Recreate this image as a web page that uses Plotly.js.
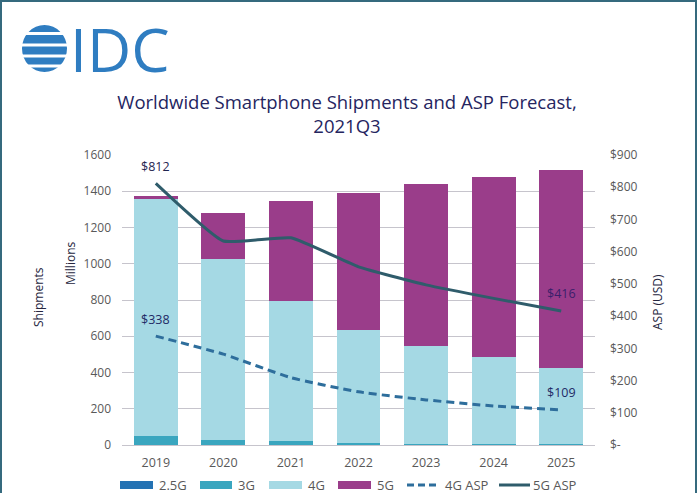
<!DOCTYPE html>
<html>
<head>
<meta charset="utf-8">
<script src="https://cdn.plot.ly/plotly-3.0.1.min.js"></script>
<style>
  html, body { margin: 0; padding: 0; background: #ffffff; }
  #wrap { position: relative; width: 697px; height: 493px; overflow: hidden; }
  #chart { width: 697px; height: 493px; }
  #frame { position: absolute; left: 0; top: 0; width: 697px; height: 520px; box-sizing: border-box;
           border: 2px solid #356a7e; pointer-events: none; }
</style>
</head>
<body>
<div id="wrap"><div id="chart"></div><div id="frame"></div></div>
<script>
// ---- data ----
const years = ['2019', '2020', '2021', '2022', '2023', '2024', '2025'];
const ship25G = [1, 1, 0.5, 0.3, 0.2, 0.1, 0.1];
const ship3G = [50, 29, 22, 13, 7, 5, 4];
const ship4G = [1306, 998, 772, 621, 539, 481, 421];
const ship5G = [17, 254, 552, 758, 894, 993, 1092];
const asp4G = [338, 282, 209, 165, 140, 121, 109];
const asp5G = [812, 633, 643, 553, 497, 455, 416];
const leftTicks = [0, 200, 400, 600, 800, 1000, 1200, 1400, 1600];
const rightTickVals = [0, 100, 200, 300, 400, 500, 600, 700, 800, 900];
const rightTickText = ['$-', '$100', '$200', '$300', '$400', '$500', '$600', '$700', '$800', '$900'];
const seriesNames = ['2.5G', '3G', '4G', '5G', '4G ASP', '5G ASP'];

// ---- styling ----
const C25 = '#2472b3', C3 = '#3aa6bf', C4 = '#a5d9e4', C5 = '#9a3d8a';
const CL4 = '#2e6e9c', CL5 = '#2f5c6b';
const FONT = 'Open Sans, Noto Sans, sans-serif';
const TICKC = '#595959';

const W = 697, H = 493, ML = 122, MR = 102, MT = 155, MB = 48;
const PW = W - ML - MR, PH = H - MT - MB;
const toPX = x => (x - ML) / PW;
const toPY = y => (H - MB - y) / PH;

const traces = [
  { type: 'bar', name: seriesNames[0], x: years, y: ship25G, marker: { color: C25 } },
  { type: 'bar', name: seriesNames[1], x: years, y: ship3G, marker: { color: C3 } },
  { type: 'bar', name: seriesNames[2], x: years, y: ship4G, marker: { color: C4 } },
  { type: 'bar', name: seriesNames[3], x: years, y: ship5G, marker: { color: C5 } },
  { type: 'scatter', mode: 'lines', name: seriesNames[4], x: years, y: asp4G, yaxis: 'y2',
    line: { color: CL4, width: 3, dash: '8px,5px', shape: 'spline', smoothing: 0.5 } },
  { type: 'scatter', mode: 'lines', name: seriesNames[5], x: years, y: asp5G, yaxis: 'y2',
    line: { color: CL5, width: 3, shape: 'spline', smoothing: 0.4 } }
];

const shapes = [];
const annotations = [];

// IDC logo globe
shapes.push({ type: 'circle', xref: 'paper', yref: 'paper', x0: toPX(22), x1: toPX(67), y0: toPY(72), y1: toPY(25),
  fillcolor: '#2f7dc1', line: { width: 0 } });
[33.5, 45, 56, 66].forEach(yy => {
  shapes.push({ type: 'line', xref: 'paper', yref: 'paper', x0: toPX(18), x1: toPX(71), y0: toPY(yy), y1: toPY(yy),
    line: { color: '#ffffff', width: 3 } });
});
annotations.push({ text: 'IDC', xref: 'paper', yref: 'paper', x: toPX(68), y: toPY(49), xanchor: 'left', yanchor: 'middle',
  showarrow: false, font: { family: FONT, size: 61, color: '#2f7dc1' } });

// axis titles
const axTitle = (text, x, y) => ({ text: text, xref: 'paper', yref: 'paper', x: toPX(x), y: toPY(y), textangle: -90,
  xanchor: 'center', yanchor: 'middle', showarrow: false, font: { family: FONT, size: 12, color: '#262640' } });
annotations.push(axTitle('Millions', 70, 264));
annotations.push(axTitle('Shipments', 38, 297));
annotations.push(axTitle('ASP (USD)', 657, 302));

// value labels (x given as category index)
const first = 0, last = years.length - 1;
const lbl = (i, arr, color) => ({ text: '$' + arr[i], x: i, y: arr[i], xref: 'x', yref: 'y2',
  yshift: 17, showarrow: false, font: { family: FONT, size: 12.5, color: color } });
annotations.push(lbl(first, asp5G, '#1f2550'));
annotations.push(lbl(first, asp4G, '#1f2a66'));
annotations.push(lbl(last, asp5G, '#3a1f6b'));
annotations.push(lbl(last, asp4G, '#1f2a66'));

// manual legend
const LEGY = 485;
const legItems = [
  { kind: 'bar', color: C25, x0: 120, x1: 153, tx: 157 },
  { kind: 'bar', color: C3, x0: 200, x1: 232, tx: 236 },
  { kind: 'bar', color: C4, x0: 269, x1: 302, tx: 306 },
  { kind: 'bar', color: C5, x0: 338, x1: 371, tx: 375 },
  { kind: 'dash', color: CL4, x0: 407, x1: 440, tx: 443 },
  { kind: 'line', color: CL5, x0: 499, x1: 530, tx: 531 }
];
legItems.forEach((it, i) => {
  if (it.kind === 'bar') {
    shapes.push({ type: 'rect', xref: 'paper', yref: 'paper', x0: toPX(it.x0), x1: toPX(it.x1), y0: toPY(LEGY + 4), y1: toPY(LEGY - 4),
      fillcolor: it.color, line: { width: 0 } });
  } else {
    shapes.push({ type: 'line', xref: 'paper', yref: 'paper', x0: toPX(it.x0), x1: toPX(it.x1), y0: toPY(LEGY), y1: toPY(LEGY),
      line: { color: it.color, width: 3, dash: it.kind === 'dash' ? '7px,4px' : 'solid' } });
  }
  annotations.push({ text: seriesNames[i], xref: 'paper', yref: 'paper', x: toPX(it.tx), y: toPY(LEGY), xanchor: 'left', yanchor: 'middle',
    showarrow: false, font: { family: FONT, size: 13, color: TICKC } });
});

const layout = {
  width: W, height: H,
  margin: { l: ML, r: MR, t: MT, b: MB, pad: 0 },
  paper_bgcolor: '#ffffff', plot_bgcolor: '#ffffff',
  barmode: 'stack', bargap: 0.35,
  showlegend: false,
  font: { family: FONT, color: TICKC, size: 12 },
  title: { text: 'Worldwide Smartphone Shipments and ASP Forecast,<br>2021Q3', x: 347 / W, xanchor: 'center',
    xref: 'container', yref: 'container', y: 1 - 109 / H, yanchor: 'middle',
    font: { family: FONT, size: 18.5, color: '#25255f' } },
  xaxis: { type: 'category', range: [-0.5, years.length - 0.5], autorange: false, showgrid: false, zeroline: false, showline: false, ticks: '',
    tickfont: { family: FONT, size: 12.5, color: TICKC }, ticklabelstandoff: 8 },
  yaxis: { range: [0, 1600], autorange: false, tickvals: leftTicks, showgrid: true, gridcolor: '#c6c4cc', gridwidth: 1,
    zeroline: true, zerolinecolor: '#c6c4cc', showline: false, ticks: '',
    tickfont: { family: FONT, size: 12, color: TICKC }, ticklabelstandoff: 10 },
  yaxis2: { range: [0, 900], autorange: false, overlaying: 'y', side: 'right', tickvals: rightTickVals, ticktext: rightTickText,
    showgrid: false, zeroline: false, showline: false, ticks: '',
    tickfont: { family: FONT, size: 12, color: TICKC }, ticklabelstandoff: 14 },
  shapes: shapes,
  annotations: annotations
};

Plotly.newPlot('chart', traces, layout, { staticPlot: true, displayModeBar: false });
</script>
</body>
</html>
